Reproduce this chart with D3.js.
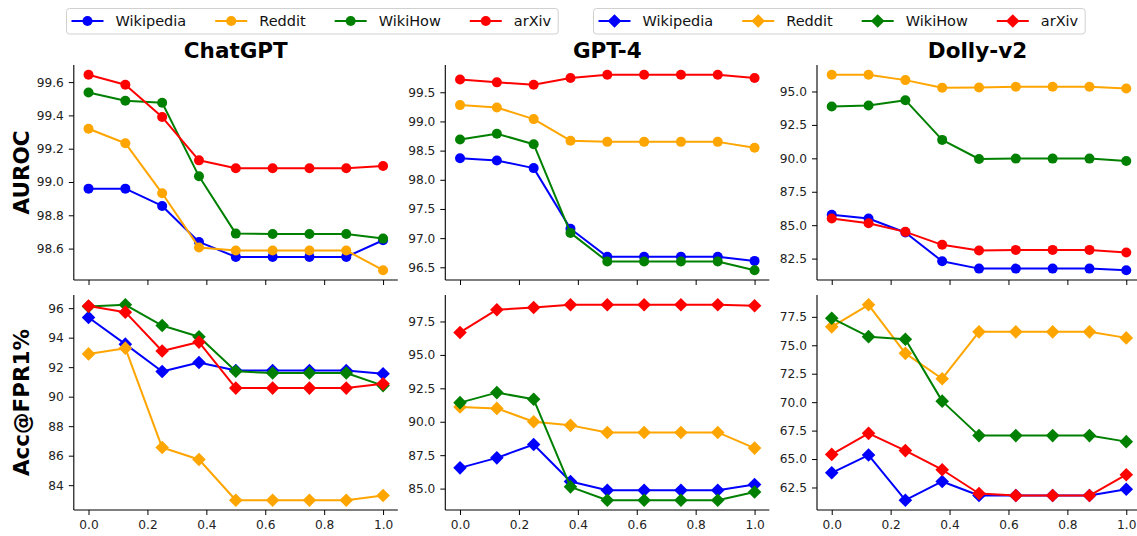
<!DOCTYPE html>
<html>
<head>
<meta charset="utf-8">
<script src="https://cdn.jsdelivr.net/npm/d3@7"></script>
<style>
  html, body { margin: 0; padding: 0; background: #fff; }
  svg { display: block; font-family: "DejaVu Sans", sans-serif; }
</style>
</head>
<body>
<svg id="chart" width="1137" height="536"></svg>
<script>
// ---------------- DATA ----------------
const xValues = [0, 0.125, 0.25, 0.375, 0.5, 0.625, 0.75, 0.875, 1.0];
const seriesNames = ["Wikipedia", "Reddit", "WikiHow", "arXiv"];
const seriesColors = ["#0000ff", "#ffa500", "#008000", "#ff0000"];
const models = ["ChatGPT", "GPT-4", "Dolly-v2"];
const metrics = ["AUROC", "Acc@FPR1%"];
const xTicks = [0, 0.2, 0.4, 0.6, 0.8, 1.0];

// AUROC
const chatgptAurocWikipedia = [98.96, 98.96, 98.856, 98.64, 98.55, 98.55, 98.55, 98.55, 98.65];
const chatgptAurocReddit    = [99.32, 99.233, 98.932, 98.607, 98.589, 98.589, 98.589, 98.589, 98.47];
const chatgptAurocWikiHow   = [99.538, 99.488, 99.476, 99.034, 98.69, 98.688, 98.688, 98.688, 98.66];
const chatgptAurocArxiv     = [99.644, 99.584, 99.39, 99.13, 99.082, 99.082, 99.082, 99.082, 99.096];

const gpt4AurocWikipedia = [98.37, 98.33, 98.20, 97.16, 96.68, 96.68, 96.68, 96.68, 96.61];
const gpt4AurocReddit    = [99.28, 99.24, 99.04, 98.67, 98.65, 98.65, 98.65, 98.65, 98.55];
const gpt4AurocWikiHow   = [98.69, 98.79, 98.61, 97.09, 96.60, 96.60, 96.60, 96.60, 96.45];
const gpt4AurocArxiv     = [99.72, 99.67, 99.63, 99.745, 99.80, 99.80, 99.80, 99.80, 99.745];

const dollyAurocWikipedia = [85.78, 85.5, 84.45, 82.3, 81.75, 81.75, 81.75, 81.75, 81.63];
const dollyAurocReddit    = [96.25, 96.25, 95.85, 95.28, 95.3, 95.35, 95.35, 95.35, 95.22];
const dollyAurocWikiHow   = [93.88, 93.95, 94.35, 91.38, 89.95, 89.98, 89.98, 89.98, 89.8];
const dollyAurocArxiv     = [85.5, 85.15, 84.5, 83.53, 83.1, 83.15, 83.15, 83.15, 82.95];

// Acc@FPR1%
const chatgptAccWikipedia = [95.37, 93.56, 91.71, 92.32, 91.77, 91.77, 91.77, 91.77, 91.55];
const chatgptAccReddit    = [92.9, 93.29, 86.55, 85.74, 82.98, 82.98, 82.98, 82.98, 83.3];
const chatgptAccWikiHow   = [96.11, 96.23, 94.82, 94.06, 91.72, 91.6, 91.6, 91.6, 90.75];
const chatgptAccArxiv     = [96.14, 95.73, 93.1, 93.7, 90.58, 90.58, 90.58, 90.58, 90.87];

const gpt4AccWikipedia = [86.55, 87.3, 88.3, 85.53, 84.88, 84.88, 84.88, 84.88, 85.3];
const gpt4AccReddit    = [91.1, 91.0, 90.0, 89.73, 89.2, 89.2, 89.2, 89.2, 88.03];
const gpt4AccWikiHow   = [91.43, 92.18, 91.68, 85.13, 84.13, 84.13, 84.13, 84.13, 84.75];
const gpt4AccArxiv     = [96.68, 98.38, 98.55, 98.75, 98.75, 98.75, 98.75, 98.75, 98.68];

const dollyAccWikipedia = [63.79, 65.35, 61.38, 63.03, 61.8, 61.8, 61.8, 61.8, 62.35];
const dollyAccReddit    = [76.62, 78.56, 74.29, 72.06, 76.18, 76.18, 76.18, 76.18, 75.65];
const dollyAccWikiHow   = [77.38, 75.76, 75.53, 70.09, 67.06, 67.06, 67.06, 67.06, 66.53];
const dollyAccArxiv     = [65.41, 67.26, 65.74, 64.06, 61.97, 61.79, 61.79, 61.79, 63.62];

// y tick labels per panel
const yTicksChatgptAuroc = ["98.6", "98.8", "99.0", "99.2", "99.4", "99.6"];
const yTicksGpt4Auroc    = ["96.5", "97.0", "97.5", "98.0", "98.5", "99.0", "99.5"];
const yTicksDollyAuroc   = ["82.5", "85.0", "87.5", "90.0", "92.5", "95.0"];
const yTicksChatgptAcc   = ["84", "86", "88", "90", "92", "94", "96"];
const yTicksGpt4Acc      = ["85.0", "87.5", "90.0", "92.5", "95.0", "97.5"];
const yTicksDollyAcc     = ["62.5", "65.0", "67.5", "70.0", "72.5", "75.0", "77.5"];

// ---------------- PANELS ----------------
const panels = [
  { row: 0, col: 0, series: [chatgptAurocWikipedia, chatgptAurocReddit, chatgptAurocWikiHow, chatgptAurocArxiv], ticks: yTicksChatgptAuroc, marker: "circle" },
  { row: 0, col: 1, series: [gpt4AurocWikipedia, gpt4AurocReddit, gpt4AurocWikiHow, gpt4AurocArxiv], ticks: yTicksGpt4Auroc, marker: "circle" },
  { row: 0, col: 2, series: [dollyAurocWikipedia, dollyAurocReddit, dollyAurocWikiHow, dollyAurocArxiv], ticks: yTicksDollyAuroc, marker: "circle" },
  { row: 1, col: 0, series: [chatgptAccWikipedia, chatgptAccReddit, chatgptAccWikiHow, chatgptAccArxiv], ticks: yTicksChatgptAcc, marker: "diamond" },
  { row: 1, col: 1, series: [gpt4AccWikipedia, gpt4AccReddit, gpt4AccWikiHow, gpt4AccArxiv], ticks: yTicksGpt4Acc, marker: "diamond" },
  { row: 1, col: 2, series: [dollyAccWikipedia, dollyAccReddit, dollyAccWikiHow, dollyAccArxiv], ticks: yTicksDollyAcc, marker: "diamond" }
];

const colLeft = [73.8, 445.3, 817];
const axW = 324;
const rowTop = [65, 295];
const axH = 215;

const svg = d3.select("#chart");

function drawMarker(g, type, x, y, color) {
  if (type === "circle") {
    g.append("circle").attr("cx", x).attr("cy", y).attr("r", 5).attr("fill", color);
  } else {
    const s = 6.8;
    g.append("path")
      .attr("d", `M${x},${y - s}L${x + s},${y}L${x},${y + s}L${x - s},${y}Z`)
      .attr("fill", color);
  }
}

panels.forEach(p => {
  const left = colLeft[p.col], top = rowTop[p.row];
  const g = svg.append("g").attr("transform", `translate(${left},${top})`);
  const x = d3.scaleLinear().domain([-0.05, 1.05]).range([0, axW]);
  const all = p.series.flat();
  const mn = d3.min(all), mx = d3.max(all), pad = (mx - mn) * 0.05;
  const y = d3.scaleLinear().domain([mn - pad, mx + pad]).range([axH, 0]);

  // y axis
  const yAxis = d3.axisLeft(y).tickValues(p.ticks.map(Number)).tickFormat((d, i) => p.ticks[i]).tickSize(5).tickPadding(5);
  const ya = g.append("g").call(yAxis);
  ya.select(".domain").attr("stroke", "#000").attr("stroke-width", 1.1).attr("d", `M0,0V${axH}`);
  ya.selectAll(".tick line").attr("stroke", "#000").attr("stroke-width", 1);
  ya.selectAll(".tick text").attr("font-size", 12.2).attr("fill", "#222").attr("font-family", "DejaVu Sans");

  // x axis
  const xAxis = d3.axisBottom(x).tickValues(xTicks).tickFormat(p.row === 1 ? d3.format(".1f") : () => "").tickSize(5).tickPadding(5);
  const xa = g.append("g").attr("transform", `translate(0,${axH})`).call(xAxis);
  xa.select(".domain").attr("stroke", "#000").attr("stroke-width", 1.1).attr("d", `M0,0H${axW}`);
  xa.selectAll(".tick line").attr("stroke", "#000").attr("stroke-width", 1);
  xa.selectAll(".tick text").attr("font-size", 12.2).attr("fill", "#222").attr("font-family", "DejaVu Sans");

  // series
  const line = d3.line().x((d, i) => x(xValues[i])).y(d => y(d));
  p.series.forEach((vals, si) => {
    const sg = g.append("g");
    sg.append("path").datum(vals).attr("d", line).attr("fill", "none")
      .attr("stroke", seriesColors[si]).attr("stroke-width", 2).attr("stroke-linejoin", "round");
    vals.forEach((v, i) => drawMarker(sg, p.marker, x(xValues[i]), y(v), seriesColors[si]));
  });

  // titles
  if (p.row === 0) {
    g.append("text").attr("x", axW / 2 + (p.col === 2 ? -1.5 : 0)).attr("y", -7).attr("text-anchor", "middle")
      .attr("font-size", 21.5).attr("font-weight", "bold").attr("fill", "#000").text(models[p.col]);
  }
  if (p.col === 0) {
    g.append("text").attr("transform", `translate(${-45},${axH / 2}) rotate(-90)`)
      .attr("text-anchor", "middle").attr("font-size", 21.5).attr("font-weight", "bold").attr("fill", "#000")
      .text(metrics[p.row]);
  }
});

// ---------------- LEGENDS ----------------
function drawLegend(startX, marker) {
  const lg = svg.append("g");
  const box = lg.append("rect");
  const fs = 14.5, handle = 32, textPad = 12, colSpace = 29;
  let cx = startX + 5;
  const cy = 21;
  seriesNames.forEach((name, i) => {
    lg.append("line").attr("x1", cx).attr("x2", cx + handle).attr("y1", cy).attr("y2", cy)
      .attr("stroke", seriesColors[i]).attr("stroke-width", 2);
    drawMarker(lg, marker, cx + handle / 2, cy, seriesColors[i]);
    const t = lg.append("text").attr("x", cx + handle + textPad).attr("y", cy + 5.2)
      .attr("font-size", fs).attr("fill", "#111").text(name);
    const w = t.node().getComputedTextLength();
    cx = cx + handle + textPad + w + colSpace;
  });
  const endX = cx - 29 + 7;
  box.attr("x", startX).attr("y", 8.5).attr("width", endX - startX).attr("height", 25.5)
    .attr("rx", 3).attr("fill", "#fff").attr("fill-opacity", 0.8).attr("stroke", "#d0d0d0").attr("stroke-width", 1);
}
drawLegend(66.5, "circle");
drawLegend(593.5, "diamond");
</script>
</body>
</html>
